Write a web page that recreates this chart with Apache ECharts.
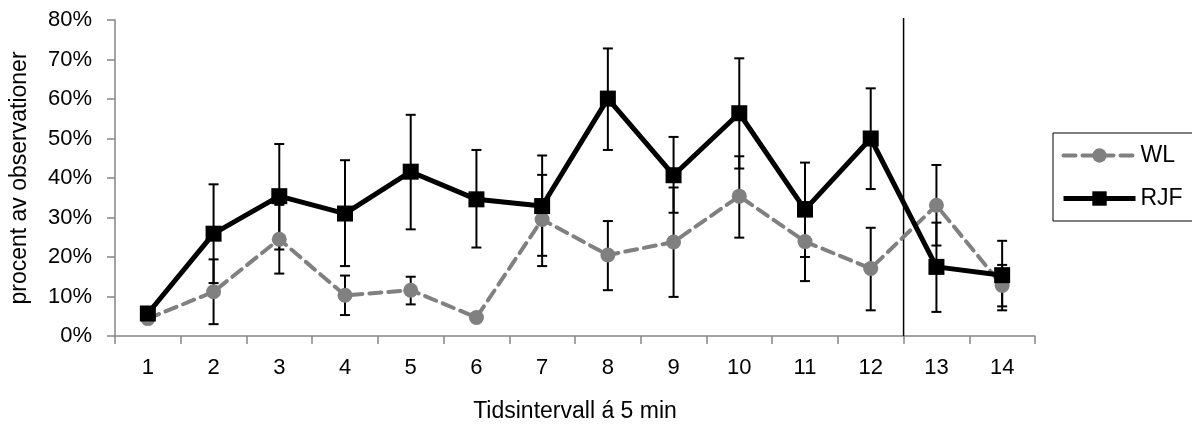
<!DOCTYPE html>
<html>
<head>
<meta charset="utf-8">
<script src="https://cdn.jsdelivr.net/npm/echarts@6/dist/echarts.min.js"></script>
<style>
  html, body { margin: 0; padding: 0; background: #fff; }
  #chart { width: 1192px; height: 430px; }
</style>
</head>
<body>
<div id="chart"></div>
<script>
// tidsintervall (kategorier)
const categories = ["1", "2", "3", "4", "5", "6", "7", "8", "9", "10", "11", "12", "13", "14"];
const yTicks = [0, 10, 20, 30, 40, 50, 60, 70, 80];

// WL, procent av observationer med felstaplar
const wl = [4.4, 11.2, 24.5, 10.3, 11.6, 4.7, 29.5, 20.5, 23.8, 35.4, 23.9, 17.1, 33.1, 12.8];
const wlLow = [null, 3.0, 15.8, 5.3, 8.0, null, 17.7, 11.6, 9.9, 24.9, 13.9, 6.5, 22.9, 7.5];
const wlHigh = [null, 19.4, 33.2, 15.3, 15.0, null, 40.8, 29.1, 37.6, 45.5, 33.9, 27.4, 43.3, 18.0];

// RJF
const rjf = [5.7, 25.9, 35.4, 31.0, 41.6, 34.6, 32.9, 60.1, 40.7, 56.4, 32.0, 50.0, 17.5, 15.4];
const rjfLow = [null, 13.4, 21.9, 17.7, 27.0, 22.4, 20.3, 47.1, 31.2, 42.4, 20.0, 37.2, 6.1, 6.5];
const rjfHigh = [null, 38.4, 48.6, 44.5, 56.0, 47.1, 45.7, 72.8, 50.4, 70.3, 43.9, 62.7, 28.7, 24.1];

// lodrät linje efter intervall 12
const dividerAfter = "12";

const font = "'Liberation Sans', Arial, sans-serif";
const wlLine = { color: "#808080", width: 4, type: [12, 7], cap: "round" };
const rjfLine = { color: "#000", width: 5 };

const toBars = (low, high) => {
  let out = [];
  low.forEach((v, i) => {
    if (v !== null) out.push([i, v, high[i]]);
  });
  return out;
};

const renderErrorBar = (params, api) => {
  let lo = api.coord([api.value(0), api.value(1)]);
  let hi = api.coord([api.value(0), api.value(2)]);
  let half = 5;
  let style = { stroke: "#000", lineWidth: 2 };
  return {
    type: "group",
    children: [
      { type: "line", shape: { x1: lo[0], y1: lo[1], x2: hi[0], y2: hi[1] }, style: style },
      { type: "line", shape: { x1: lo[0] - half, y1: lo[1], x2: lo[0] + half, y2: lo[1] }, style: style },
      { type: "line", shape: { x1: hi[0] - half, y1: hi[1], x2: hi[0] + half, y2: hi[1] }, style: style },
    ],
  };
};

const renderDivider = (params, api) => {
  let bottom = api.coord([api.value(0), api.value(1)]);
  let top = api.coord([api.value(0), api.value(2)]);
  let x = bottom[0] + api.size([1, 0])[0] / 2;
  return {
    type: "line",
    shape: { x1: x, y1: bottom[1], x2: x, y2: top[1] - 2 },
    style: { stroke: "#000", lineWidth: 1.5 },
  };
};

let myChart = echarts.init(document.getElementById("chart"));
let option = {
  animation: false,
  backgroundColor: "#fff",
  textStyle: { fontFamily: font },
  grid: { left: 115, right: 157, top: 20, bottom: 94 },
  legend: {
    orient: "vertical",
    left: 1053,
    top: 133,
    padding: [11, 10, 11, 8],
    borderColor: "#000",
    borderWidth: 1,
    itemWidth: 72,
    itemHeight: 18,
    itemGap: 20,
    textStyle: { fontSize: 23, color: "#000", fontFamily: font },
    data: [
      { name: "WL", lineStyle: wlLine },
      { name: "RJF", lineStyle: rjfLine },
    ],
  },
  xAxis: {
    type: "category",
    data: categories,
    boundaryGap: true,
    name: "Tidsintervall á 5 min",
    nameLocation: "middle",
    nameGap: 64,
    nameTextStyle: { fontSize: 23, color: "#000", fontFamily: font },
    axisLine: { lineStyle: { color: "#868686", width: 1.5 } },
    axisTick: { show: true, alignWithLabel: false, length: 8, lineStyle: { color: "#868686", width: 1.5 } },
    axisLabel: { fontSize: 22, color: "#000", margin: 21, fontFamily: font },
    splitLine: { show: false },
  },
  yAxis: {
    type: "value",
    min: yTicks[0],
    max: yTicks[yTicks.length - 1],
    interval: 10,
    name: "procent av observationer",
    nameLocation: "middle",
    nameGap: 84,
    nameTextStyle: { fontSize: 23, color: "#000", fontFamily: font },
    axisLine: { show: true, lineStyle: { color: "#868686", width: 1.5 } },
    axisTick: { show: true, length: 8, lineStyle: { color: "#868686", width: 1.5 } },
    axisLabel: { fontSize: 22, color: "#000", margin: 23, formatter: "{value}%", fontFamily: font },
    splitLine: { show: false },
  },
  series: [
    {
      // felstaplar WL
      type: "custom",
      name: "wlErr",
      renderItem: renderErrorBar,
      data: toBars(wlLow, wlHigh),
      z: 1,
      silent: true,
    },
    {
      // felstaplar RJF
      type: "custom",
      name: "rjfErr",
      renderItem: renderErrorBar,
      data: toBars(rjfLow, rjfHigh),
      z: 1,
      silent: true,
    },
    {
      type: "custom",
      name: "divider",
      renderItem: renderDivider,
      data: [[categories.indexOf(dividerAfter), yTicks[0], yTicks[yTicks.length - 1]]],
      z: 1,
      silent: true,
    },
    {
      type: "line",
      name: "WL",
      data: wl,
      symbol: "circle",
      symbolSize: 15,
      itemStyle: { color: "#808080" },
      lineStyle: wlLine,
      z: 2,
    },
    {
      type: "line",
      name: "RJF",
      data: rjf,
      symbol: "rect",
      symbolSize: 16,
      itemStyle: { color: "#000" },
      lineStyle: rjfLine,
      z: 3,
    },
  ],
};

option && myChart.setOption(option);
</script>
</body>
</html>
